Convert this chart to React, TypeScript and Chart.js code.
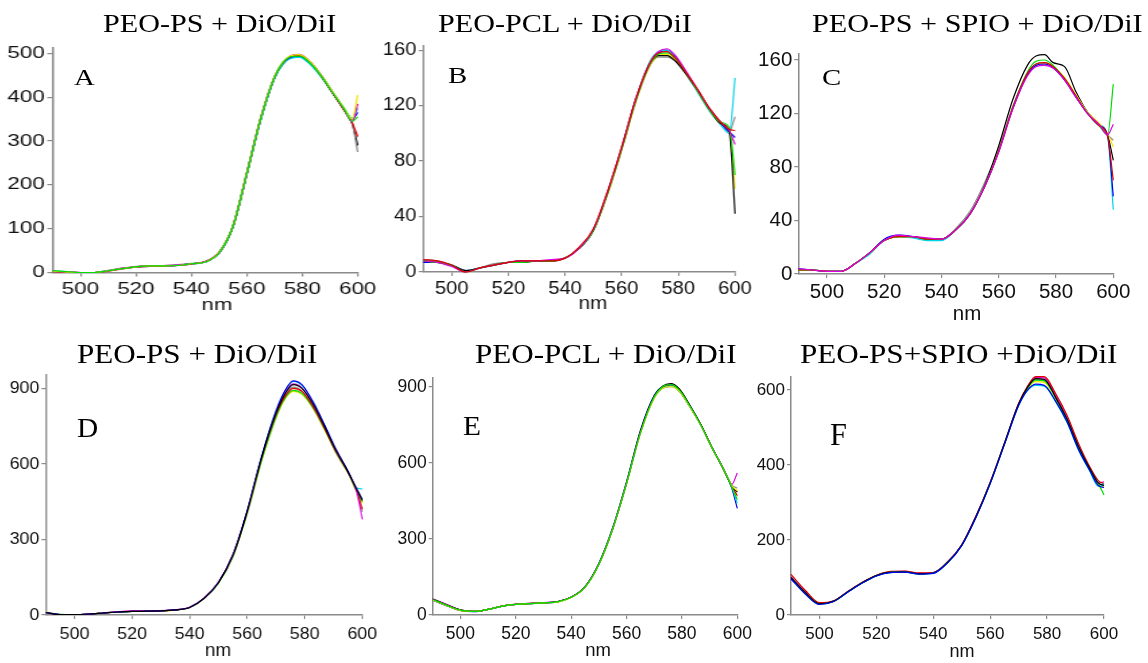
import React, { useEffect, useRef } from "react";
import { Chart, registerables } from "chart.js";

Chart.register(...registerables);

// ---------- data ----------
const WAVELENGTHS = [490, 495, 500, 505, 510, 515, 520, 525, 530, 535, 540, 545, 550, 555, 560, 565, 570, 573, 576, 579, 583, 587, 591, 595, 598, 600];
const X_TICKS = [500, 520, 540, 560, 580, 600];
const Y_TICKS_A = [0, 100, 200, 300, 400, 500];
const Y_TICKS_B = [0, 40, 80, 120, 160];
const Y_TICKS_C = [0, 40, 80, 120, 160];
const Y_TICKS_D = [0, 300, 600, 900];
const Y_TICKS_E = [0, 300, 600, 900];
const Y_TICKS_F = [0, 200, 400, 600];

// colours of series 1..8 in every panel
const LINE_COLORS = ["#000000", "#e00000", "#0000ee", "#00d4e8", "#e000e0", "#8c8c8c", "#00dd00", "#f2e600"];

// Panel A: PEO-PS + DiO/DiI
const A1 = [3, 1, 0, 0, 4, 9, 13, 15, 15, 17, 20, 24, 45, 105, 225, 350, 445, 477, 492, 494, 478, 448, 410, 372, 340, 290];
const A2 = [2, 1, 0, 0, 3, 8, 12, 14, 15, 16, 19, 25, 46, 106, 227, 352, 446, 478, 494, 496, 479, 447, 409, 371, 342, 310];
const A3 = [3, 1, 0, 0, 4, 9, 13, 15, 14, 16, 20, 24, 44, 104, 224, 349, 444, 476, 490, 492, 476, 446, 409, 374, 350, 365];
const A4 = [4, 2, 0, 0, 4, 9, 12, 14, 14, 16, 19, 24, 45, 105, 225, 349, 443, 475, 489, 491, 474, 445, 410, 376, 352, 375];
const A5 = [3, 1, 0, 0, 4, 10, 13, 15, 16, 17, 20, 25, 46, 106, 227, 353, 447, 479, 495, 498, 480, 449, 411, 373, 344, 385];
const A6 = [3, 1, 0, 0, 5, 10, 14, 16, 16, 18, 21, 25, 45, 105, 225, 350, 445, 478, 494, 497, 479, 448, 410, 372, 341, 275];
const A7 = [4, 2, 0, 0, 4, 9, 13, 15, 15, 16, 20, 24, 45, 105, 226, 351, 446, 479, 493, 494, 477, 447, 410, 374, 345, 355];
const A8 = [3, 1, 0, 0, 4, 9, 13, 15, 15, 16, 20, 24, 46, 106, 226, 352, 447, 480, 495, 497, 480, 449, 412, 376, 350, 405];

// Panel B: PEO-PCL + DiO/DiI
const B1 = [8, 7, 5, 1, 3, 5, 7, 7, 8, 8, 10, 17, 30, 57, 89, 124, 150, 156, 156, 152, 142, 130, 117, 107, 101, 42];
const B2 = [9, 8, 5, 0, 3, 5, 7, 8, 8, 8, 10, 18, 31, 58, 90, 125, 151, 158, 159, 154, 143, 131, 118, 108, 103, 102];
const B3 = [7, 7, 5, 1, 3, 5, 7, 8, 8, 8, 10, 17, 30, 57, 89, 125, 151, 158, 160, 155, 143, 130, 117, 107, 101, 97];
const B4 = [8, 7, 5, 1, 3, 5, 7, 7, 8, 8, 10, 17, 30, 57, 90, 125, 152, 159, 160, 154, 142, 129, 116, 106, 100, 140];
const B5 = [8, 7, 4, 0, 3, 5, 7, 8, 8, 9, 10, 17, 31, 58, 90, 125, 151, 159, 161, 156, 144, 131, 118, 108, 102, 92];
const B6 = [9, 8, 5, 1, 3, 6, 7, 8, 8, 8, 10, 17, 30, 56, 88, 123, 149, 155, 155, 152, 143, 131, 118, 108, 101, 112];
const B7 = [8, 7, 5, 0, 3, 5, 7, 7, 8, 8, 10, 17, 30, 57, 89, 124, 150, 157, 158, 154, 143, 130, 117, 108, 104, 70];
const B8 = [8, 7, 5, 0, 3, 5, 7, 7, 8, 8, 10, 17, 30, 56, 88, 123, 149, 156, 157, 153, 142, 130, 117, 107, 102, 60];

// Panel C: PEO-PS + SPIO + DiO/DiI
const C1 = [3, 3, 2, 2, 8, 16, 25, 28, 28, 26, 26, 33, 45, 66, 96, 131, 156, 163, 164, 158, 155, 136, 121, 112, 104, 85];
const C2 = [3, 3, 2, 2, 8, 16, 25, 28, 28, 26, 26, 33, 45, 65, 92, 125, 150, 157, 158, 155, 146, 133, 120, 111, 103, 70];
const C3 = [4, 3, 2, 2, 8, 16, 26, 29, 28, 26, 26, 33, 45, 65, 92, 124, 149, 156, 157, 154, 145, 132, 120, 111, 104, 58];
const C4 = [3, 3, 2, 2, 8, 15, 25, 28, 27, 25, 25, 33, 45, 65, 92, 125, 150, 157, 158, 155, 146, 133, 121, 112, 103, 48];
const C5 = [4, 3, 2, 2, 8, 16, 25, 29, 28, 27, 26, 33, 45, 65, 91, 124, 148, 155, 156, 154, 145, 132, 120, 112, 104, 112];
const C6 = [3, 3, 2, 2, 8, 16, 25, 28, 28, 26, 26, 34, 47, 68, 94, 126, 150, 156, 157, 155, 146, 133, 121, 112, 104, 100];
const C7 = [3, 3, 2, 2, 8, 16, 25, 28, 28, 26, 26, 33, 45, 65, 92, 125, 151, 159, 160, 156, 146, 133, 120, 111, 104, 142];
const C8 = [3, 3, 2, 2, 8, 16, 25, 28, 28, 26, 26, 33, 45, 65, 92, 124, 149, 156, 158, 155, 147, 134, 121, 113, 105, 95];

// Panel D: PEO-PS + DiO/DiI
const D1 = [10, 2, 2, 4, 8, 12, 14, 15, 16, 20, 30, 66, 128, 235, 410, 625, 800, 875, 915, 900, 835, 745, 650, 570, 500, 455];
const D2 = [10, 2, 2, 4, 8, 12, 15, 15, 16, 20, 31, 67, 130, 238, 412, 624, 795, 865, 900, 888, 825, 738, 645, 568, 495, 420];
const D3 = [9, 2, 2, 4, 8, 12, 14, 15, 16, 20, 30, 66, 129, 237, 414, 630, 810, 888, 930, 915, 845, 752, 655, 572, 502, 460];
const D4 = [11, 3, 2, 4, 8, 12, 14, 15, 16, 20, 30, 66, 128, 236, 412, 628, 808, 886, 928, 912, 842, 750, 652, 572, 505, 500];
const D5 = [10, 2, 2, 4, 8, 13, 16, 16, 17, 21, 31, 67, 130, 238, 412, 626, 802, 878, 918, 902, 836, 744, 648, 566, 490, 380];
const D6 = [10, 2, 2, 4, 8, 12, 14, 15, 16, 20, 30, 65, 127, 234, 408, 620, 795, 868, 905, 890, 828, 740, 646, 566, 492, 410];
const D7 = [10, 2, 2, 4, 8, 12, 14, 15, 16, 20, 30, 65, 126, 232, 404, 612, 785, 858, 892, 880, 820, 735, 642, 565, 492, 450];
const D8 = [12, 3, 2, 4, 8, 12, 14, 15, 16, 19, 29, 64, 125, 230, 402, 610, 782, 855, 888, 876, 818, 732, 640, 562, 490, 445];

// Panel E: PEO-PCL + DiO/DiI
const E1 = [62, 40, 20, 14, 22, 35, 42, 45, 48, 52, 70, 110, 200, 340, 520, 722, 862, 902, 912, 892, 825, 748, 658, 575, 508, 485];
const E2 = [60, 38, 18, 14, 22, 35, 42, 46, 48, 52, 70, 110, 200, 340, 520, 720, 860, 898, 910, 890, 822, 746, 656, 574, 508, 470];
const E3 = [58, 37, 18, 13, 22, 35, 42, 45, 48, 52, 70, 112, 204, 345, 526, 728, 866, 900, 905, 884, 818, 744, 656, 575, 500, 420];
const E4 = [60, 38, 18, 14, 22, 34, 42, 45, 47, 52, 70, 110, 200, 340, 520, 720, 858, 895, 902, 884, 818, 745, 657, 576, 505, 440];
const E5 = [64, 42, 20, 14, 22, 35, 43, 46, 49, 53, 71, 111, 201, 341, 520, 718, 858, 896, 903, 884, 820, 746, 656, 578, 515, 560];
const E6 = [60, 38, 18, 14, 22, 35, 42, 45, 48, 52, 70, 110, 199, 338, 516, 715, 855, 893, 900, 882, 820, 746, 657, 577, 512, 500];
const E7 = [61, 39, 19, 14, 22, 35, 42, 45, 48, 52, 70, 110, 200, 340, 519, 718, 860, 900, 908, 888, 822, 746, 656, 574, 505, 455];
const E8 = [59, 38, 18, 14, 22, 35, 42, 45, 48, 51, 69, 109, 199, 339, 518, 716, 856, 894, 900, 882, 818, 744, 656, 576, 510, 490];

// Panel F: PEO-PS+SPIO +DiO/DiI
const F1 = [100, 60, 30, 37, 62, 86, 105, 114, 115, 110, 112, 140, 186, 262, 352, 457, 562, 605, 630, 628, 580, 522, 450, 390, 352, 345];
const F2 = [108, 66, 33, 38, 63, 87, 106, 116, 117, 112, 113, 142, 188, 264, 354, 458, 564, 608, 635, 635, 590, 532, 458, 395, 358, 350];
const F3 = [96, 56, 28, 36, 61, 85, 104, 113, 114, 109, 111, 139, 185, 260, 350, 454, 558, 598, 615, 612, 570, 515, 442, 385, 345, 340];
const F4 = [98, 58, 29, 36, 61, 85, 104, 113, 114, 109, 111, 139, 185, 260, 350, 455, 558, 597, 612, 610, 568, 513, 440, 383, 343, 350];
const F5 = [102, 62, 31, 37, 62, 86, 105, 115, 116, 111, 113, 141, 187, 263, 353, 457, 562, 606, 633, 632, 585, 526, 452, 390, 352, 355];
const F6 = [101, 61, 30, 37, 62, 86, 105, 114, 115, 110, 112, 140, 186, 262, 351, 456, 561, 604, 628, 626, 580, 522, 448, 388, 350, 345];
const F7 = [99, 59, 30, 36, 62, 85, 105, 114, 115, 109, 112, 140, 186, 261, 351, 456, 560, 603, 626, 624, 578, 520, 447, 388, 350, 320];
const F8 = [100, 60, 30, 37, 62, 86, 105, 114, 115, 110, 112, 140, 186, 262, 352, 456, 560, 602, 622, 620, 576, 518, 446, 387, 348, 340];

// ---------- layout / style ----------
type PanelSpec = {
  letter: string;
  title: string;
  series: number[][];
  yTicks: number[];
  yMax: number;
  plot: { l: number; r: number; t: number; b: number };
  sx: number;
  font: number;
  tickPad: number;
  nm: [number, number, number];
  titleAt: [number, number, number, number];
  letterAt: [number, number, number, number];
  drawSeq: number[]; // series indices, bottom-most first
};

const PANELS: PanelSpec[] = [
  {
    letter: "A", title: "PEO-PS + DiO/DiI", series: [A1, A2, A3, A4, A5, A6, A7, A8], yTicks: Y_TICKS_A, yMax: 513,
    plot: { l: 52.7, r: 357.7, t: 47.7, b: 272.5 }, sx: 1.35, font: 16.5, tickPad: 3,
    nm: [217, 310, 16.5], titleAt: [103, 33, 26, 1.16], letterAt: [74, 85, 24, 1.2],
    drawSeq: [0, 5, 2, 3, 1, 4, 7, 6],
  },
  {
    letter: "B", title: "PEO-PCL + DiO/DiI", series: [B1, B2, B3, B4, B5, B6, B7, B8], yTicks: Y_TICKS_B, yMax: 163,
    plot: { l: 423.3, r: 735, t: 46, b: 272 }, sx: 1.15, font: 17.5, tickPad: 3,
    nm: [593, 308.5, 18], titleAt: [438, 33, 26, 1.16], letterAt: [448, 83.5, 24, 1.2],
    drawSeq: [5, 2, 3, 7, 0, 6, 4, 1],
  },
  {
    letter: "C", title: "PEO-PS + SPIO + DiO/DiI", series: [C1, C2, C3, C4, C5, C6, C7, C8], yTicks: Y_TICKS_C, yMax: 165,
    plot: { l: 798.3, r: 1113.3, t: 53.3, b: 274 }, sx: 1.0, font: 20.5, tickPad: 2,
    nm: [967, 320, 20.5], titleAt: [812, 33, 26, 1.16], letterAt: [822, 85, 24, 1.2],
    drawSeq: [5, 0, 3, 7, 2, 6, 1, 4],
  },
  {
    letter: "D", title: "PEO-PS + DiO/DiI", series: [D1, D2, D3, D4, D5, D6, D7, D8], yTicks: Y_TICKS_D, yMax: 953,
    plot: { l: 45.7, r: 362.3, t: 375, b: 615 }, sx: 1.05, font: 17, tickPad: 5,
    nm: [218, 656, 18], titleAt: [77, 363, 28, 1.11], letterAt: [77, 437, 28, 1.05],
    drawSeq: [5, 7, 6, 3, 1, 4, 2, 0],
  },
  {
    letter: "E", title: "PEO-PCL + DiO/DiI", series: [E1, E2, E3, E4, E5, E6, E7, E8], yTicks: Y_TICKS_E, yMax: 937,
    plot: { l: 432.7, r: 737.3, t: 377.3, b: 615 }, sx: 1.0, font: 17.5, tickPad: 5,
    nm: [598, 656, 18.5], titleAt: [475, 363, 28, 1.11], letterAt: [463, 435, 28, 1.05],
    drawSeq: [5, 2, 4, 3, 1, 0, 7, 6],
  },
  {
    letter: "F", title: "PEO-PS+SPIO +DiO/DiI", series: [F1, F2, F3, F4, F5, F6, F7, F8], yTicks: Y_TICKS_F, yMax: 635,
    plot: { l: 791, r: 1104, t: 376.7, b: 615 }, sx: 1.0, font: 17, tickPad: 5,
    nm: [962, 657, 18], titleAt: [800, 363, 28, 1.11], letterAt: [830, 445, 32, 0.95],
    drawSeq: [5, 7, 4, 1, 3, 6, 0, 2],
  },
];

const SANS = '"Liberation Sans", Arial, Helvetica, sans-serif';
const SERIF = '"Liberation Serif", "Times New Roman", Times, serif';
const AXIS_GRAY = "#8a8a8a";
const TEXT_DARK = "#111111";

const nmLabelPlugin = {
  id: "nmLabel",
  afterDraw(chart: any, _args: any, opts: any) {
    const ctx = chart.ctx;
    ctx.save();
    ctx.font = `${opts.size}px ${SANS}`;
    ctx.fillStyle = TEXT_DARK;
    ctx.textAlign = "center";
    ctx.textBaseline = "alphabetic";
    ctx.fillText(opts.text, opts.x, opts.y);
    ctx.restore();
  },
};

function SpectrumPanel({ panel }: { panel: PanelSpec }) {
  const ref = useRef<HTMLCanvasElement | null>(null);
  const L = Math.floor(panel.plot.l - 50);
  const T = Math.floor(panel.plot.t - 14);
  const R = Math.ceil(panel.plot.r + 26);
  const Bt = Math.ceil(panel.plot.b + 52);
  const W = R - L;
  const H = Bt - T;
  const cw = Math.round(W / panel.sx);
  const k = W / cw;

  useEffect(() => {
    const canvas = ref.current;
    if (!canvas) return;
    const tickFont = { family: SANS, size: panel.font };
    const n = panel.series.length;
    const chart = new Chart(canvas, {
      type: "line",
      data: {
        datasets: panel.series.map((vals, i) => ({
          data: vals.map((y, j) => ({ x: WAVELENGTHS[j], y })),
          borderColor: LINE_COLORS[i % LINE_COLORS.length],
          borderWidth: 1.2,
          pointRadius: 0,
          fill: false,
          cubicInterpolationMode: "monotone" as const,
          clip: false as any,
          order: n - panel.drawSeq.indexOf(i),
        })),
      },
      options: {
        responsive: false,
        animation: false,
        devicePixelRatio: 1,
        events: [],
        layout: {
          padding: { left: 0, top: panel.plot.t - T, right: (R - panel.plot.r) / k, bottom: 0 },
        },
        plugins: {
          legend: { display: false },
          tooltip: { enabled: false },
          title: { display: false },
          nmLabel: { text: "nm", x: (panel.nm[0] - L) / k, y: panel.nm[1] - T, size: panel.nm[2] },
        } as any,
        scales: {
          x: {
            type: "linear",
            min: 490,
            max: 600,
            afterBuildTicks: (s: any) => {
              s.ticks = X_TICKS.map((v) => ({ value: v }));
            },
            afterFit: (s: any) => {
              s.height = Bt - panel.plot.b;
            },
            ticks: { color: TEXT_DARK, font: tickFont, padding: panel.tickPad, maxRotation: 0, autoSkip: false },
            grid: { display: true, drawOnChartArea: false, drawTicks: true, tickLength: 4, color: AXIS_GRAY, lineWidth: 1.2 },
            border: { display: true, color: AXIS_GRAY, width: 1.5 },
          },
          y: {
            type: "linear",
            min: 0,
            max: panel.yMax,
            afterBuildTicks: (s: any) => {
              s.ticks = panel.yTicks.map((v) => ({ value: v }));
            },
            afterFit: (s: any) => {
              s.width = (panel.plot.l - L) / k;
            },
            ticks: { color: TEXT_DARK, font: tickFont, padding: 2, autoSkip: false },
            grid: { display: true, drawOnChartArea: false, drawTicks: true, tickLength: 4, color: AXIS_GRAY, lineWidth: 1.2 },
            border: { display: true, color: AXIS_GRAY, width: 1.5 },
          },
        },
      } as any,
      plugins: [nmLabelPlugin],
    });
    return () => chart.destroy();
  }, [panel]);

  return (
    <canvas
      ref={ref}
      width={cw}
      height={H}
      style={{ position: "absolute", left: L, top: T, width: W, height: H }}
    />
  );
}

function SerifText({ text, x, baseline, size, scale }: { text: string; x: number; baseline: number; size: number; scale: number }) {
  return (
    <div
      style={{
        position: "absolute",
        left: x,
        top: baseline - 0.8375 * size,
        fontFamily: SERIF,
        fontSize: size,
        lineHeight: 1,
        whiteSpace: "nowrap",
        color: "#000",
        transform: `scaleX(${scale})`,
        transformOrigin: "0 0",
      }}
    >
      {text}
    </div>
  );
}

export default function App() {
  return (
    <div
      style={{
        position: "fixed",
        left: 0,
        top: 0,
        width: 1148,
        height: 663,
        background: "#ffffff",
        overflow: "hidden",
      }}
    >
      {PANELS.map((p) => (
        <SpectrumPanel key={p.letter} panel={p} />
      ))}
      {PANELS.map((p) => (
        <SerifText key={"t" + p.letter} text={p.title} x={p.titleAt[0]} baseline={p.titleAt[1]} size={p.titleAt[2]} scale={p.titleAt[3]} />
      ))}
      {PANELS.map((p) => (
        <SerifText key={"l" + p.letter} text={p.letter} x={p.letterAt[0]} baseline={p.letterAt[1]} size={p.letterAt[2]} scale={p.letterAt[3]} />
      ))}
    </div>
  );
}
